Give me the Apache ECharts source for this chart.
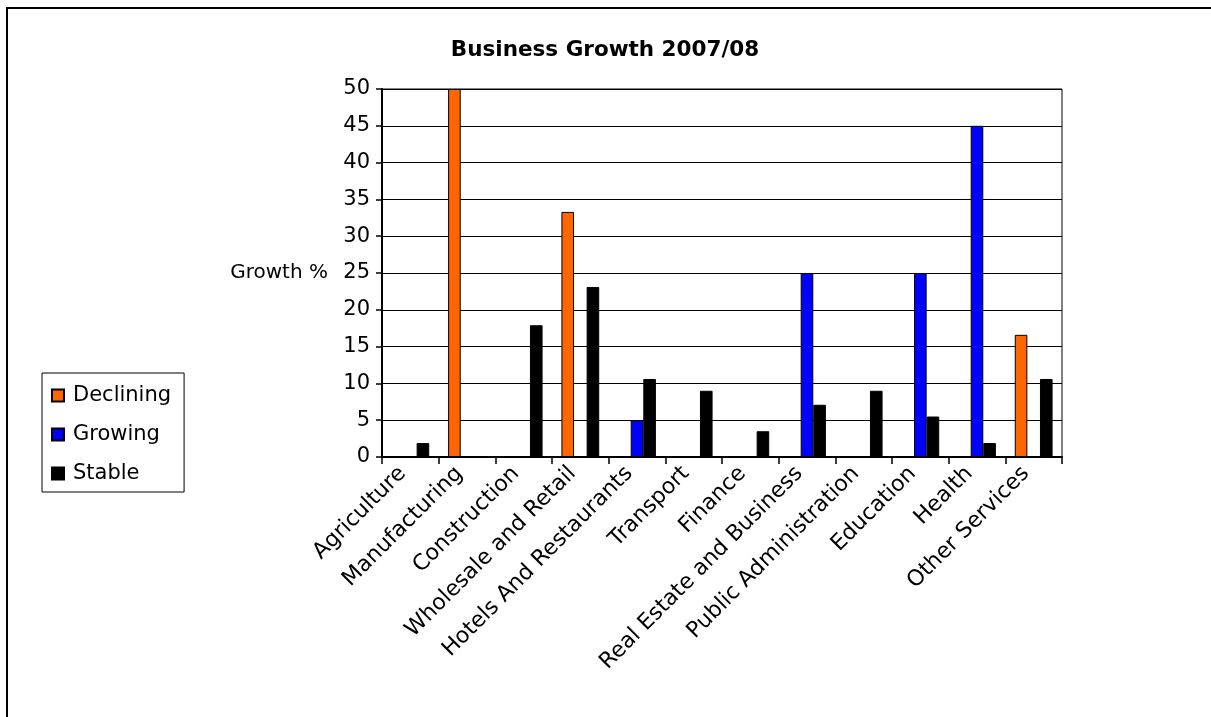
<!DOCTYPE html>
<html>
<head>
<meta charset="utf-8">
<script src="https://cdn.jsdelivr.net/npm/echarts@6/dist/echarts.min.js"></script>
<style>
  html, body { margin: 0; padding: 0; background: #fff; }
  #chart { width: 1211px; height: 717px; }
</style>
</head>
<body>
<div id="chart"></div>
<script>
const categories = ['Agriculture', 'Manufacturing', 'Construction', 'Wholesale and Retail',
  'Hotels And Restaurants', 'Transport', 'Finance', 'Real Estate and Business',
  'Public Administration', 'Education', 'Health', 'Other Services'];
const declining = [0, 50, 0, 33.3, 0, 0, 0, 0, 0, 0, 0, 16.6];
const growing   = [0, 0, 0, 0, 5, 0, 0, 25, 0, 25, 45, 0];
const stable    = [1.9, 0, 17.9, 23.1, 10.6, 9, 3.5, 7.1, 9, 5.5, 1.9, 10.6];
const yTicks = { min: 0, max: 50, interval: 5 };

const FONT = 'DejaVu Sans';
const chart = echarts.init(document.getElementById('chart'), null, { renderer: 'canvas' });

function barSeries(name, data, color) {
  return {
    name: name,
    type: 'bar',
    data: data,
    barGap: '0%',
    barCategoryGap: '33.3%',
    itemStyle: { color: color, borderColor: '#000', borderWidth: 1 },
    emphasis: { disabled: true },
    animation: false
  };
}

chart.setOption({
  animation: false,
  backgroundColor: '#fff',
  textStyle: { fontFamily: FONT, color: '#000' },
  graphic: [{
    type: 'rect',
    shape: { x: 7, y: 8, width: 1400, height: 900 },
    style: { fill: 'none', stroke: '#000', lineWidth: 2 },
    silent: true,
    z: -10
  }],
  title: {
    text: 'Business Growth 2007/08',
    left: 600,
    textAlign: 'center',
    top: 34,
    textStyle: { fontFamily: FONT, fontWeight: 'bold', fontSize: 21.5, color: '#000' }
  },
  legend: {
    orient: 'vertical',
    left: 42,
    top: 373,
    padding: [12, 13, 8, 9],
    itemGap: 18,
    itemWidth: 12,
    itemHeight: 12,
    icon: 'rect',
    borderColor: '#000',
    borderWidth: 1,
    backgroundColor: '#fff',
    textStyle: { fontFamily: FONT, fontSize: 21, color: '#000', padding: [0, 0, 0, 4] },
    data: ['Declining', 'Growing', 'Stable']
  },
  grid: {
    left: 382,
    right: 149,
    top: 89,
    bottom: 260,
    show: true,
    borderColor: '#000',
    borderWidth: 1,
    containLabel: false
  },
  xAxis: {
    type: 'category',
    data: categories,
    axisLine: { lineStyle: { color: '#000', width: 2 } },
    axisTick: { show: true, length: 7, lineStyle: { color: '#000', width: 1.5 } },
    axisLabel: {
      interval: 0,
      rotate: 45,
      margin: 21,
      verticalAlign: 'bottom',
      fontFamily: FONT,
      fontSize: 22,
      color: '#000'
    },
    splitLine: { show: false }
  },
  yAxis: {
    type: 'value',
    min: yTicks.min,
    max: yTicks.max,
    interval: yTicks.interval,
    name: 'Growth %',
    nameLocation: 'middle',
    nameRotate: 0,
    nameGap: 54,
    nameTextStyle: { fontFamily: FONT, fontSize: 20, color: '#000', align: 'right', verticalAlign: 'middle' },
    axisLine: { show: true, lineStyle: { color: '#000', width: 2 } },
    axisTick: { show: true, length: 6, lineStyle: { color: '#000', width: 1.5 } },
    axisLabel: { margin: 12, fontFamily: FONT, fontSize: 21, color: '#000' },
    splitLine: { show: true, lineStyle: { color: '#000', width: 1 } }
  },
  series: [
    barSeries('Declining', declining, '#FF6600'),
    barSeries('Growing', growing, '#0000FF'),
    barSeries('Stable', stable, '#000000')
  ]
});
</script>
</body>
</html>
